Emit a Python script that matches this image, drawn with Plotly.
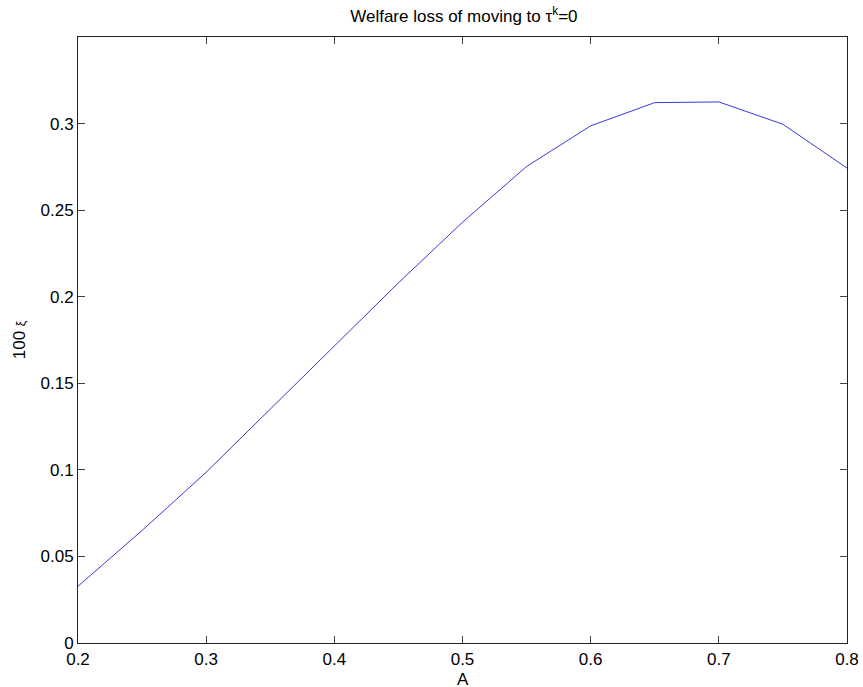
import plotly.graph_objects as go

# Welfare loss (in percent) against the parameter A
a_values = [0.20, 0.25, 0.30, 0.35, 0.40, 0.45, 0.50, 0.55, 0.60, 0.65, 0.70, 0.75, 0.80]
welfare_loss = [0.0328, 0.0650, 0.0986, 0.1350, 0.1716, 0.2080, 0.2430, 0.2752, 0.2987,
                0.3121, 0.3125, 0.2996, 0.2743]

x_ticks = [0.2, 0.3, 0.4, 0.5, 0.6, 0.7, 0.8]
x_tick_text = ["0.2", "0.3", "0.4", "0.5", "0.6", "0.7", "0.8"]
y_ticks = [0, 0.05, 0.1, 0.15, 0.2, 0.25, 0.3]
y_tick_text = ["0", "0.05", "0.1", "0.15", "0.2", "0.25", "0.3"]

FONT = "Liberation Sans, Arial, sans-serif"
FS = 17
PLOT_H = 687 - 37 - 44

fig = go.Figure()
fig.add_trace(go.Scatter(
    x=a_values, y=welfare_loss, mode="lines",
    line=dict(color="#3a3ad8", width=1),
    showlegend=False, hoverinfo="skip",
))

axis_common = dict(
    showline=True, linecolor="#222222", linewidth=1, mirror="ticks",
    ticks="inside", ticklen=7, tickcolor="#444444", tickwidth=1,
    showgrid=False, zeroline=False, automargin=False,
    tickfont=dict(family=FONT, size=FS, color="black"),
)

fig.update_layout(
    width=863, height=687,
    margin=dict(l=78, r=16, t=37, b=44),
    paper_bgcolor="white", plot_bgcolor="white",
    font=dict(family=FONT, size=FS, color="black"),
    title=dict(
        text="Welfare loss of moving to τ<sup>k</sup>=0",
        x=0.5375, xanchor="center", y=1 - 16 / 687, yanchor="middle",
        yref="container",
        font=dict(family=FONT, size=FS, color="black"),
    ),
    xaxis=dict(
        range=[0.2, 0.8], tickvals=x_ticks, ticktext=x_tick_text,
        ticklabelstandoff=1,
        **axis_common,
    ),
    yaxis=dict(
        range=[0, 0.35], tickvals=y_ticks, ticktext=y_tick_text,
        ticklabelstandoff=0,
        title=dict(text="100 <span style='font-size:12px'>ξ</span>", standoff=10,
                   font=dict(family=FONT, size=FS)),
        **axis_common,
    ),
    annotations=[dict(
        text="A", xref="paper", yref="paper", x=0.5, y=-36 / PLOT_H,
        xanchor="center", yanchor="middle", showarrow=False,
        font=dict(family=FONT, size=FS, color="black"),
    )],
)

fig.write_html("out.html")
